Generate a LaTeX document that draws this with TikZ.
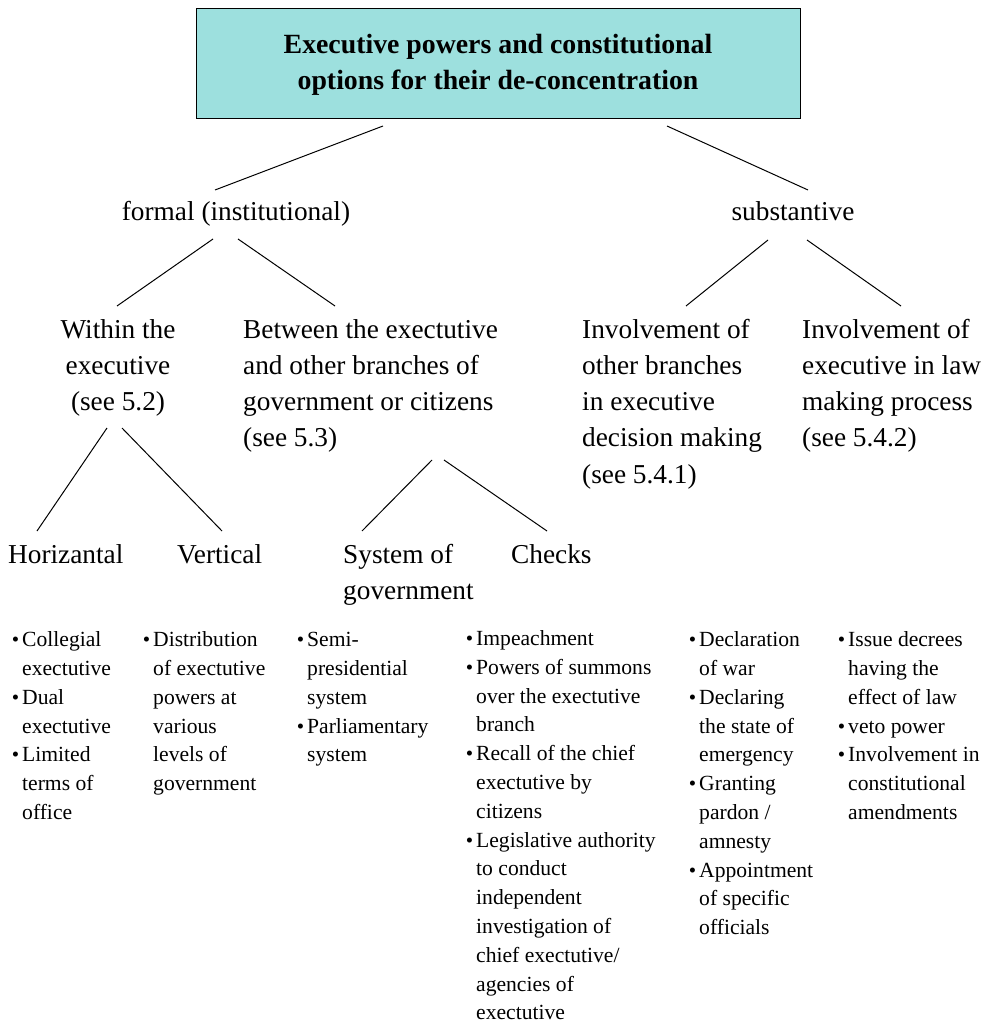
\documentclass[tikz,border=0pt]{standalone}
\usepackage{fontspec}
\setmainfont{Liberation Serif}
\definecolor{boxteal}{RGB}{157,224,222}
\begin{document}
\begin{tikzpicture}[x=1pt,y=-1pt,
  big/.style={font=\fontsize{27.3}{36.25}\selectfont, inner sep=0pt, align=left, anchor=base west},
  bigc/.style={font=\fontsize{27.3}{36.25}\selectfont, inner sep=0pt, align=center, anchor=base},
  lst/.style={font=\fontsize{21.6}{28.8}\selectfont, inner sep=0pt, align=left, anchor=base west},
  conn/.style={draw=black, line width=1pt},
  titlebox/.style={draw=black, line width=1.2pt, fill=boxteal, minimum width=604pt, minimum height=110pt, inner sep=0pt, anchor=north west}
]
\newcommand{\bl}{\llap{\raisebox{0pt}{\fontsize{21}{21}\selectfont\textbullet}\hspace{3pt}}}
\useasboundingbox (0,0) rectangle (999,1024);

% title (base anchor = baseline of last line)
\node[titlebox] (box) at (196,8) {};
\node[font=\fontsize{27.8}{36}\selectfont\bfseries, inner sep=0pt, align=center, anchor=base] (title) at (498,90)
  {Executive powers and constitutional\\ options for their de-concentration};

% level 1
\node[bigc] (formal) at (236,221) {formal (institutional)};
\node[bigc] (subst) at (793,221) {substantive};

% level 2
\node[bigc] (within) at (118,410.5) {Within the\\ executive\\ (see 5.2)};
\node[big] (between) at (243,446.75) {Between the exectutive\\ and other branches of\\ government or citizens\\ (see 5.3)};
\node[big] (invother) at (582,483) {Involvement of\\ other branches\\ in executive\\ decision making\\ (see 5.4.1)};
\node[big] (invexec) at (802,446.75) {Involvement of\\ executive in law\\ making process\\ (see 5.4.2)};

% level 3
\node[big] (horiz) at (8,563) {Horizantal};
\node[big] (vert) at (177,563) {Vertical};
\node[big] (sysgov) at (343,599.25) {System of\\ government};
\node[big] (checks) at (511,563) {Checks};

% lists
\node[lst] (l1) at (22,819.5) {\bl Collegial\\ exectutive\\ \bl Dual\\ exectutive\\ \bl Limited\\ terms of\\ office};
\node[lst] (l2) at (153,790.7) {\bl Distribution\\ of exectutive\\ powers at\\ various\\ levels of\\ government};
\node[lst] (l3) at (307,761.9) {\bl Semi-\\ presidential\\ system\\ \bl Parliamentary\\ system};
\node[lst] (l4) at (476,1019.8) {\bl Impeachment\\ \bl Powers of summons\\ over the exectutive\\ branch\\ \bl Recall of the chief\\ exectutive by\\ citizens\\ \bl Legislative authority\\ to conduct\\ independent\\ investigation of\\ chief exectutive/\\ agencies of\\ exectutive};
\node[lst] (l5) at (699,934.7) {\bl Declaration\\ of war\\ \bl Declaring\\ the state of\\ emergency\\ \bl Granting\\ pardon /\\ amnesty\\ \bl Appointment\\ of specific\\ officials};
\node[lst] (l6) at (848,819.5) {\bl Issue decrees\\ having the\\ effect of law\\ \bl veto power\\ \bl Involvement in\\ constitutional\\ amendments};

% connector endpoints
\coordinate (bA) at (383,126); \coordinate (fA) at (215,190);
\coordinate (bB) at (667,126); \coordinate (sA) at (808,190);
\coordinate (fB) at (213,239); \coordinate (wA) at (117,306);
\coordinate (fC) at (238,239); \coordinate (btA) at (335,306);
\coordinate (sB) at (768,240); \coordinate (ioA) at (686,306);
\coordinate (sC) at (807,240); \coordinate (ieA) at (901,306);
\coordinate (wB) at (107,428); \coordinate (hA) at (37,531);
\coordinate (wC) at (122,428); \coordinate (vA) at (222,531);
\coordinate (btB) at (432,460); \coordinate (sgA) at (362,531);
\coordinate (btC) at (444,460); \coordinate (cA) at (547,531);

\draw[conn] (bA) -- (fA);
\draw[conn] (bB) -- (sA);
\draw[conn] (fB) -- (wA);
\draw[conn] (fC) -- (btA);
\draw[conn] (sB) -- (ioA);
\draw[conn] (sC) -- (ieA);
\draw[conn] (wB) -- (hA);
\draw[conn] (wC) -- (vA);
\draw[conn] (btB) -- (sgA);
\draw[conn] (btC) -- (cA);
\end{tikzpicture}
\end{document}
